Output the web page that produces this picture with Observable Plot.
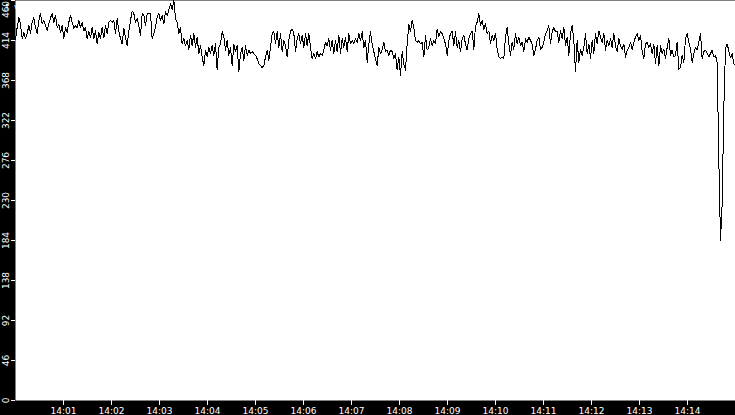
<!DOCTYPE html>
<html>
<head>
<meta charset="utf-8">
<script src="https://cdn.jsdelivr.net/npm/d3@7"></script>
<script src="https://cdn.jsdelivr.net/npm/@observablehq/plot@0.6"></script>
<style>
  html, body { margin: 0; padding: 0; background: #000; overflow: hidden; }
</style>
</head>
<body>
<div id="chart"></div>
<script>
// Time span of the recording
const startTime = "2024-01-01T14:00:00Z";
const endTime = "2024-01-01T14:15:00Z";

const seg1 = [415,429,440,433,416,423,416,422,431,422,435,440,429,422,437,445,433,437,431,425,
  433,440,445,435,443,429,433,423,431,416,429,423,435,443,435,428,431,429,437,429,
  435,425,429,416,425,417,429,416,425,410,423,416,429,417,431,422,435,437,435,437,
  422,439,425,416,410,428,417,408,425,437,448,445,435,439,431];
const seg2 = [420,445,443,431,445,445,445,416,422,429,441,445,437,443,433,447,443,449,456,450,
  460,439,435,422,429,410,416,408,414,404,420,408,422,406,418,399,408,395,385,403,
  395,406,399,408,397,410,380,406,410,424,418,403,414,397,406,385,410,401,408,378,
  399,406,391,408,397,403,399,401,399,397,393,387];
const seg3 = [385,383,385,395,403,391,406,422,424,410,424,406,422,401,414,408,395,414,425,427,
  422,401,416,422,410,420,406,422,408,422,406,393,399,393,401,395,399,397,403,412,
  408,416,403,414,399,414,401,420,399,416,406,418,401,422,410,414,410,416,412,422,
  414,424,406,414,389,410,424,410,401,393,385,406];
const seg4 = [399,403,412,401,403,397,403,401,393,399,380,395,374,401,387,380,410,433,424,437,
  429,414,412,414,410,412,395,420,403,406,416,408,414,410,427,418,424,422,416,410,
  397,414,422,425,408,424,406,414,401,416,420,410,403,416,422,425,404,431,435,445,
  431,437,427,433,422,425,410,420,414,422,404,395];
const seg5 = [393,395,393,418,429,410,397,412,404,422,410,418,408,412,401,416,412,418,414,410,
  397,404,414,418,404,406,412,422,425,431,410,424,429,424,425,412,425,416,429,408,
  418,397,422,431,414,378,414,389,404,397,406,422,399,410,393,414,399,422,410,425,
  418,412,422,403,414,408,416,406,422,408,401,416];
const seg6 = [408,404,410,395,403,406,412,404,412,418,422,414,420,401,393,410,412,406,410,399,
  410,387,408,385,408,399,404,393,406,416,397,403,395,397,412,381,383,397,389,416,
  422,412,404,389,399,406,403,412,422,393,401,403,399,395,399,403,395,397,389,276,
  184,226,337,405,410,402,394,399,387,385];

const xTickLabels = ["14:01","14:02","14:03","14:04","14:05","14:06","14:07",
  "14:08","14:09","14:10","14:11","14:12","14:13","14:14"];
const yTicks = [0, 46, 92, 138, 184, 230, 276, 322, 368, 414, 460];

const values = [...seg1, ...seg2, ...seg3, ...seg4, ...seg5, ...seg6];
const t0 = new Date(startTime), t1 = new Date(endTime);
const stepMs = (t1 - t0) / (values.length - 1);
const data = values.map((v, i) => ({time: new Date(+t0 + i * stepMs), value: v}));
const xTicks = xTickLabels.map(s => new Date(`2024-01-01T${s}:00Z`));

const plot = Plot.plot({
  width: 735,
  height: 415,
  marginLeft: 15,
  marginRight: 0,
  marginTop: 0,
  marginBottom: 15,
  style: {background: "#000", fontFamily: "DejaVu Sans", fontSize: "9px", color: "white"},
  x: {type: "utc", domain: [t0, t1]},
  y: {domain: [0, 460]},
  marks: [
    Plot.frame({fill: "white", stroke: null}),
    Plot.line(data, {x: "time", y: "value", stroke: "black", strokeWidth: 1, shapeRendering: "crispEdges"}),
    Plot.axisX(xTicks, {tickSize: 5, tickPadding: 2, stroke: "white", fill: "white",
      tickFormat: (d, i) => xTickLabels[i]}),
    Plot.axisY(yTicks, {tickSize: 4, stroke: "white", tickFormat: () => ""}),
    Plot.text(yTicks.filter(d => d < 460), {y: d => d, text: d => String(d), frameAnchor: "left",
      dx: -9, rotate: -90, fill: "white", fontSize: 9, textAnchor: "middle", lineAnchor: "middle"}),
    Plot.text(yTicks.filter(d => d === 460), {y: d => d, text: d => String(d), frameAnchor: "left",
      dx: -9, dy: 9, rotate: -90, fill: "white", fontSize: 9, textAnchor: "middle", lineAnchor: "middle"})
  ]
});
document.getElementById("chart").appendChild(plot);
</script>
</body>
</html>
